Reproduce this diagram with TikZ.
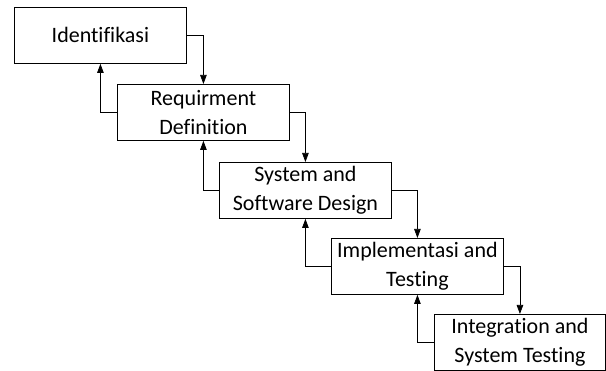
\documentclass[tikz,border=0pt]{standalone}
\usepackage{fontspec}
\setmainfont{Carlito}[Ligatures={NoCommon}]
\usetikzlibrary{arrows.meta}
\begin{document}
\begin{tikzpicture}[x=1pt,y=-1pt,
  phase/.style={draw=black,line width=0.85pt,fill=white,anchor=north west,
    minimum width=172pt,minimum height=56pt,inner sep=0pt,align=center,
    font=\fontsize{22}{28.5}\selectfont},
  flow/.style={line width=0.75pt,-{Triangle[length=9pt,width=6.5pt]}}]
  \useasboundingbox (0,0) rectangle (606,371);
  % waterfall stages
  \node[phase] (s1) at (14,7) {Identifikasi};
  \node[phase] (s2) at (117,84) {Requirment\\Definition};
  \node[phase] (s3) at (219,162) {System and\\Software Design};
  \node[phase] (s4) at (331,238) {Implementasi and\\Testing};
  \node[phase,minimum width=171pt] (s5) at (434,314) {Integration and\\System Testing};
  % forward flow and feedback
  \foreach \a/\b in {s1/s2,s2/s3,s3/s4,s4/s5}{
    \draw[flow] (\a.east) -| (\b.north);
    \draw[flow] (\b.west) -| (\a.south);
  }
\end{tikzpicture}
\end{document}
